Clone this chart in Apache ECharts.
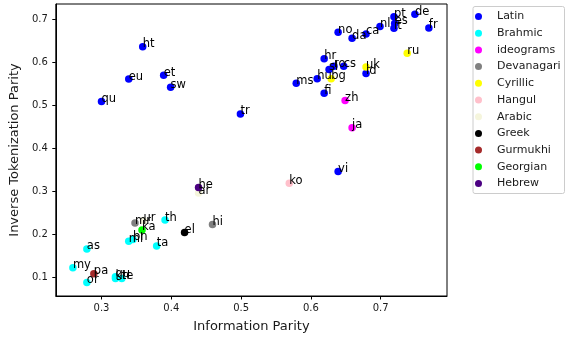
<!DOCTYPE html>
<html>
<head>
<meta charset="utf-8">
<script src="https://cdn.jsdelivr.net/npm/echarts@6/dist/echarts.min.js"></script>
<style>html,body{margin:0;padding:0;background:#fff;}#c{width:575px;height:343px;}</style>
</head>
<body>
<div id="c"></div>
<script>
// Data: [label, information parity, inverse tokenization parity]
const latin = [
  ['pt',0.719,0.706],['de',0.749,0.712],['fr',0.769,0.680],['es',0.720,0.690],['it',0.719,0.679],
  ['nl',0.699,0.683],['ca',0.679,0.666],['da',0.659,0.656],['no',0.639,0.670],['hr',0.619,0.608],
  ['ro',0.633,0.591],['cs',0.647,0.591],['sl',0.626,0.583],['id',0.679,0.574],['hu',0.609,0.562],
  ['ms',0.579,0.551],['fi',0.619,0.528],['ht',0.359,0.636],['eu',0.339,0.561],['et',0.389,0.570],
  ['sw',0.399,0.542],['qu',0.300,0.509],['tr',0.499,0.480],['vi',0.639,0.346]
];
const brahmic = [
  ['th',0.391,0.233],['ml',0.339,0.184],['bn',0.345,0.188],['ta',0.379,0.173],['as',0.279,0.166],
  ['my',0.259,0.122],['or',0.279,0.088],['gu',0.320,0.101],['kn',0.320,0.097],['te',0.329,0.097]
];
const ideograms = [['zh',0.649,0.511],['ja',0.659,0.448]];
const devanagari = [['mr',0.348,0.226],['hi',0.459,0.223]];
const cyrillic = [['ru',0.738,0.621],['uk',0.679,0.589],['bg',0.629,0.562]];
const hangul = [['ko',0.569,0.319]];
const arabic = [['ur',0.360,0.232],['ar',0.439,0.296]];
const greek = [['el',0.419,0.204]];
const gurmukhi = [['pa',0.289,0.108]];
const georgian = [['ka',0.358,0.210]];
const hebrew = [['he',0.439,0.309]];

const groups = [
  ['Latin', latin, '#0000ff'],
  ['Brahmic', brahmic, '#00ffff'],
  ['ideograms', ideograms, '#ff00ff'],
  ['Devanagari', devanagari, '#808080'],
  ['Cyrillic', cyrillic, '#ffff00'],
  ['Hangul', hangul, '#ffc0cb'],
  ['Arabic', arabic, '#f5f5dc'],
  ['Greek', greek, '#000000'],
  ['Gurmukhi', gurmukhi, '#a52a2a'],
  ['Georgian', georgian, '#00ff00'],
  ['Hebrew', hebrew, '#4b0082']
];
const xTicks = [0.3,0.4,0.5,0.6,0.7];
const yTicks = [0.1,0.2,0.3,0.4,0.5,0.6,0.7];

const FONT = 'DejaVu Sans';
const S = 7.5;
const chart = echarts.init(document.getElementById('c'), null, {renderer:'canvas'});
const series = groups.map(([name, arr, color]) => ({
  name, type:'scatter', symbol:'circle', symbolSize:S,
  itemStyle:{color, opacity:1},
  data: arr.map(d => ({value:[d[1], d[2]], lab:d[0]})),
  label:{show:true, formatter:p => p.data.lab, position:[S/2, S/2+3.5], align:'left', verticalAlign:'bottom',
    color:'#000', fontFamily:FONT, fontSize:11.5},
  emphasis:{disabled:true}, animation:false
}));
chart.setOption({
  animation:false,
  textStyle:{fontFamily:FONT},
  grid:{left:53, right:128, top:4, bottom:47, show:true, borderColor:'#000', borderWidth:1, backgroundColor:'transparent'},
  legend:{
    data: groups.map(g => g[0]), orient:'vertical', left:473, top:6.5,
    padding:[4,4,4,2], itemGap:4.7, itemWidth:27, itemHeight:7, icon:'circle',
    textStyle:{fontFamily:FONT, fontSize:11, color:'#1a1a1a', lineHeight:12},
    borderColor:'#cccccc', borderWidth:1, borderRadius:2, backgroundColor:'#fff'
  },
  xAxis:{
    type:'value', min:0.2345, max:0.795,
    name:'Information Parity', nameLocation:'middle', nameGap:24,
    nameTextStyle:{fontFamily:FONT, fontSize:13, color:'#1a1a1a'},
    axisLine:{show:true, lineStyle:{color:'#000', width:1}},
    axisTick:{show:true, length:3.5, lineStyle:{color:'#000'}, customValues:xTicks},
    axisLabel:{fontFamily:FONT, fontSize:10, color:'#1a1a1a', margin:7, customValues:xTicks, formatter:v => v.toFixed(1)},
    splitLine:{show:false}
  },
  yAxis:{
    type:'value', min:0.0565, max:0.7356,
    name:'Inverse Tokenization Parity', nameLocation:'middle', nameGap:33,
    nameTextStyle:{fontFamily:FONT, fontSize:13, color:'#1a1a1a'},
    axisLine:{show:true, lineStyle:{color:'#000', width:1}},
    axisTick:{show:true, length:3.5, lineStyle:{color:'#000'}, customValues:yTicks},
    axisLabel:{fontFamily:FONT, fontSize:10, color:'#1a1a1a', margin:8, customValues:yTicks, formatter:v => v.toFixed(1)},
    splitLine:{show:false}
  },
  series
});
</script>
</body>
</html>
